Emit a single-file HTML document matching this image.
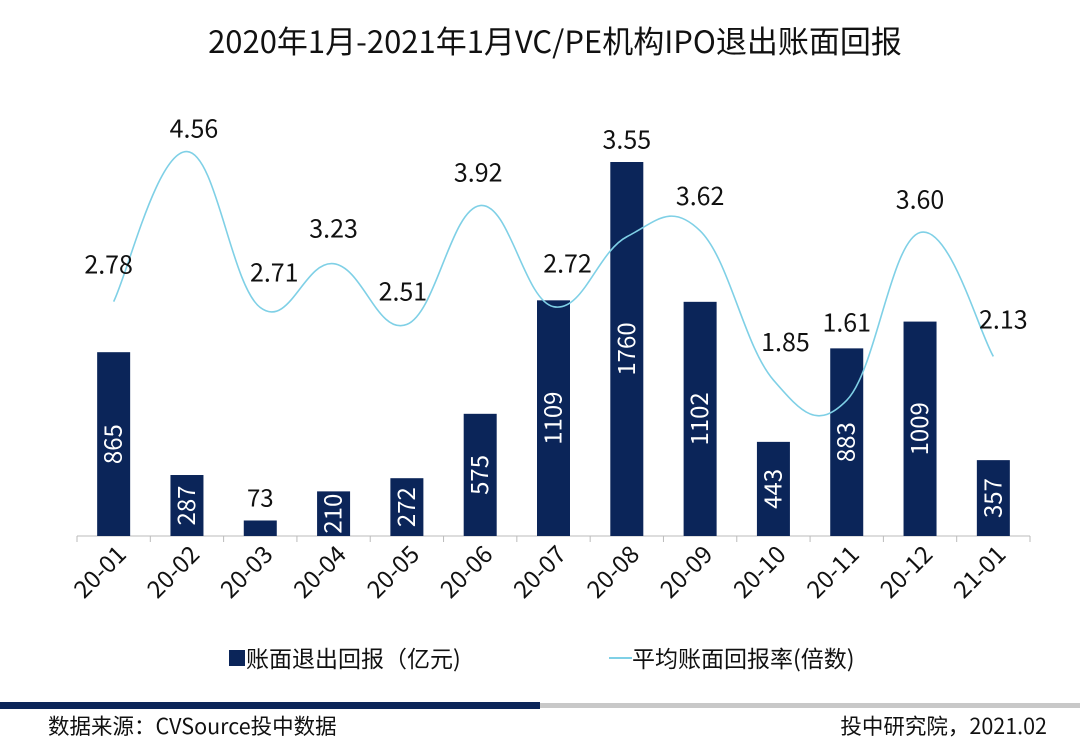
<!DOCTYPE html>
<html><head><meta charset="utf-8">
<style>
html,body{margin:0;padding:0;background:#fff;}
body{width:1080px;height:746px;overflow:hidden;font-family:"Noto Sans CJK SC","Liberation Sans",sans-serif;}
svg text{font-family:"Noto Sans CJK SC","Liberation Sans",sans-serif;}
</style></head>
<body>
<svg id="chart" width="1080" height="746" xmlns="http://www.w3.org/2000/svg">
<text x="555" y="53" text-anchor="middle" font-size="31" fill="#111">2020年1月-2021年1月VC/PE机构IPO退出账面回报</text>
<g id="plot"></g>
<g>
<rect x="229" y="650" width="16" height="16" fill="#0b2559"/>
<text x="246" y="667" font-size="23" fill="#111">账面退出回报（亿元)</text>
<line x1="609" y1="658" x2="632" y2="658" stroke="#7fd0e6" stroke-width="2"/>
<text x="632" y="667" font-size="23" fill="#111">平均账面回报率(倍数)</text>
</g>
<rect x="0" y="702" width="540" height="7" fill="#0b2559"/>
<rect x="540" y="703" width="540" height="5" fill="#c8c8c8"/>
<text x="48" y="734" font-size="21.5" fill="#111">数据来源：CVSource投中数据</text>
<text x="1047" y="734" font-size="21.5" fill="#111" text-anchor="end">投中研究院，2021.02</text>
</svg>
<script>
const categories=["20-01","20-02","20-03","20-04","20-05","20-06","20-07","20-08","20-09","20-10","20-11","20-12","21-01"];
const exitValues=[865,287,73,210,272,575,1109,1760,1102,443,883,1009,357];
const returnMultiples=[2.78,4.56,2.71,3.23,2.51,3.92,2.72,3.55,3.62,1.85,1.61,3.60,2.13];
// label placement tweaks (layout, not data)
const labelDx=[-5,7,14,0,-4,-2,14,0,0,12,0,0,10];
const labelDy=[-2,12,0,0,2,2,-8,-62,0,-3,-43,2,-2];
const NS="http://www.w3.org/2000/svg";
const plot=document.getElementById('plot');
const x0=77,x1=1030,base=536,step=(x1-x0)/categories.length,barW=33;
const xC=i=>x0+step*(i+0.5);
const yBar=v=>base-v*0.2125;
const yLine=v=>base-v*84.3;
function mk(tag,attrs){const e=document.createElementNS(NS,tag);for(const k in attrs)e.setAttribute(k,attrs[k]);plot.appendChild(e);return e;}
const ax=mk('line',{x1:x0,y1:base,x2:x1,y2:base,stroke:'#bbb','stroke-width':1});


for(let i=0;i<=categories.length;i++){const t=mk('line',{x1:x0+step*i,y1:base,x2:x0+step*i,y2:base+6,stroke:'#bbb'});

}
categories.forEach((c,i)=>{
const v=exitValues[i],top=yBar(v);
const r=mk('rect',{x:xC(i)-barW/2,y:top,width:barW,height:base-top,fill:'#0b2559'});


const h=base-top;let t;
if(h>25){t=mk('text',{transform:`translate(${xC(i)+8},${(top+base)/2}) rotate(-90)`,'text-anchor':'middle','font-size':24,fill:'#fff'});}
else{t=mk('text',{x:xC(i),y:top-14,'text-anchor':'middle','font-size':24,fill:'#111'});}
t.textContent=v;


const xl=mk('text',{transform:`translate(${xC(i)+14},${base+20}) rotate(-45)`,'text-anchor':'end','font-size':24,fill:'#111'});
xl.textContent=c;


});
const pts=returnMultiples.map((v,i)=>[xC(i),yLine(v)]);
let d=`M${pts[0][0]},${pts[0][1]}`;
for(let i=0;i<pts.length-1;i++){
const p0=pts[Math.max(0,i-1)],p1=pts[i],p2=pts[i+1],p3=pts[Math.min(pts.length-1,i+2)];
const k=1/5;
d+=` C${p1[0]+(p2[0]-p0[0])*k},${p1[1]+(p2[1]-p0[1])*k} ${p2[0]-(p3[0]-p1[0])*k},${p2[1]-(p3[1]-p1[1])*k} ${p2[0]},${p2[1]}`;
}
const ln=mk('path',{d:d,fill:'none',stroke:'#7fd0e6','stroke-width':1.6});


returnMultiples.forEach((v,i)=>{
const t=mk('text',{x:xC(i)+labelDx[i],y:yLine(v)-26+labelDy[i],'text-anchor':'middle','font-size':25,fill:'#111'});
t.textContent=v.toFixed(2);


});
</script>
</body></html>
